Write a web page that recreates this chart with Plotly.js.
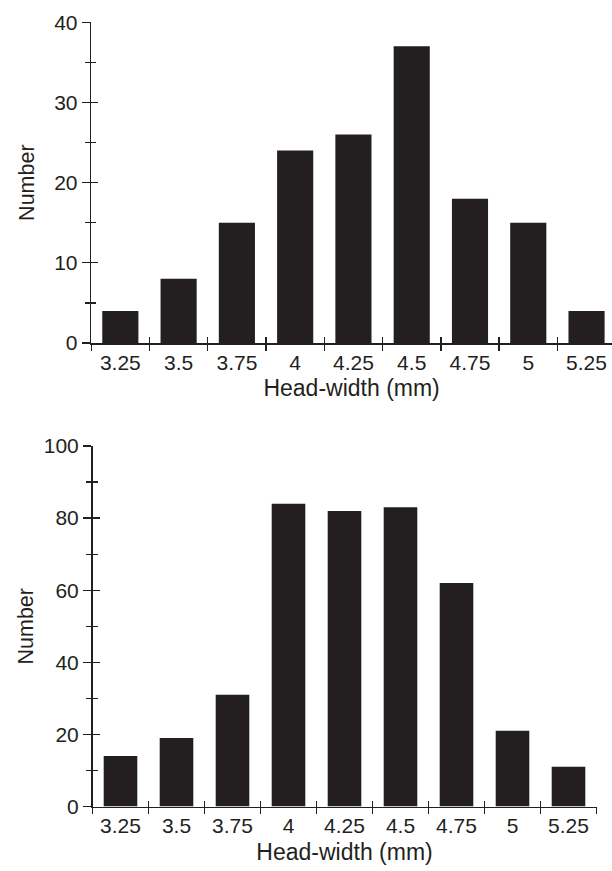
<!DOCTYPE html>
<html><head><meta charset="utf-8">
<script src="https://cdn.plot.ly/plotly-3.0.1.min.js"></script>
<style>html,body{margin:0;padding:0;background:#fff}#chart{width:612px;height:871px}</style>
</head><body><div id="chart"></div>
<script>
// ---- data ----
const headWidths = ["3.25","3.5","3.75","4","4.25","4.5","4.75","5","5.25"];
const countsTop = [4, 8, 15, 24, 26, 37, 18, 15, 4];
const countsBottom = [14, 19, 31, 84, 82, 83, 62, 21, 11];
const xTitleText = "Head-width (mm)";
const yTitleText = "Number";

// ---- style / geometry ----
const ink = '#231f20';
const W = 612, H = 871;
const fam = '"Liberation Sans", Arial, Helvetica, sans-serif';
const tickFont = {family: fam, size: 21, color: ink};
const fx = p => p / W;
const fy = p => 1 - p / H;

const G1 = {x0: 91.2, x1: 612, catW: 58.275, y0: 343, y1: 22.3, ymax: 40, dtick: 10};
const G2 = {x0: 92.5, x1: 596.6, catW: 56.0, y0: 806.5, y1: 446, ymax: 100, dtick: 20};

function xr(g){ return [-0.5, -0.5 + (g.x1 - g.x0) / g.catW]; }

function xAxis(g, extra){
  return Object.assign({
    type: 'category', categoryorder: 'array', categoryarray: headWidths,
    tickson: 'boundaries', ticks: 'outside', ticklen: 6, tickwidth: 1.3, tickcolor: ink,
    showline: true, linecolor: ink, linewidth: 1.5, showgrid: false, zeroline: false,
    tickfont: tickFont, automargin: false, fixedrange: true,
    domain: [fx(g.x0), fx(g.x1)], range: xr(g)
  }, extra);
}
function yAxis(g, extra){
  return Object.assign({
    range: [0, g.ymax], dtick: g.dtick, tick0: 0,
    ticks: 'outside', ticklen: 8, tickwidth: 1.3, tickcolor: ink,
    minor: {dtick: g.dtick/2, tick0: 0, ticks: 'outside', ticklen: 5, tickwidth: 1.3, tickcolor: ink, showgrid: false},
    showline: true, linecolor: ink, linewidth: 1.5, showgrid: false, zeroline: false,
    tickfont: tickFont, automargin: false, fixedrange: true,
    domain: [fy(g.y0), fy(g.y1)]
  }, extra);
}
const xTitle = {text: xTitleText, font: {family: fam, size: 23, color: ink}, standoff: 7};
const yTitleTop = {text: yTitleText, font: {family: fam, size: 21.5, color: ink}, standoff: 13};
const yTitleBot = {text: yTitleText, font: {family: fam, size: 21.5, color: ink}, standoff: 4};

const data = [
  {type: 'bar', x: headWidths, y: countsTop, xaxis: 'x', yaxis: 'y', width: 0.62,
   marker: {color: ink, line: {width: 0}}, hoverinfo: 'x+y', showlegend: false},
  {type: 'bar', x: headWidths, y: countsBottom, xaxis: 'x2', yaxis: 'y2', width: 0.6,
   marker: {color: ink, line: {width: 0}}, hoverinfo: 'x+y', showlegend: false},
  // carriers for the overlay axes (draw nothing, only make the inward tick halves appear)
  {type: 'scatter', mode: 'none', x: headWidths, y: countsTop, xaxis: 'x3', yaxis: 'y3', hoverinfo: 'skip', showlegend: false},
  {type: 'scatter', mode: 'none', x: headWidths, y: countsBottom, xaxis: 'x4', yaxis: 'y4', hoverinfo: 'skip', showlegend: false}
];

const innerMinor = g => ({dtick: g.dtick/2, tick0: 0, ticks: 'inside', ticklen: 5, tickwidth: 1.3, tickcolor: ink, showgrid: false});

const layout = {
  width: W, height: H,
  margin: {l: 0, r: 0, t: 0, b: 0, pad: 0},
  paper_bgcolor: '#fff', plot_bgcolor: 'rgba(0,0,0,0)',
  showlegend: false,
  xaxis: xAxis(G1, {anchor: 'y', title: xTitle}),
  yaxis: yAxis(G1, {anchor: 'x', title: yTitleTop}),
  xaxis2: xAxis(G2, {anchor: 'y2', title: xTitle}),
  yaxis2: yAxis(G2, {anchor: 'x2', title: yTitleBot}),
  // overlay axes: inward half of the crossing tick marks
  xaxis3: xAxis(G1, {anchor: 'y3', overlaying: 'x', ticks: 'inside', showline: false, showticklabels: false}),
  yaxis3: yAxis(G1, {anchor: 'x3', overlaying: 'y', side: 'left', ticks: 'inside', ticklen: 7,
    minor: innerMinor(G1), showline: false, showticklabels: false}),
  xaxis4: xAxis(G2, {anchor: 'y4', overlaying: 'x2', ticks: 'inside', showline: false, showticklabels: false}),
  yaxis4: yAxis(G2, {anchor: 'x4', overlaying: 'y2', side: 'left', ticks: 'inside', ticklen: 7,
    minor: innerMinor(G2), showline: false, showticklabels: false})
};

Plotly.newPlot('chart', data, layout, {displayModeBar: false, staticPlot: true});
</script>
</body></html>
